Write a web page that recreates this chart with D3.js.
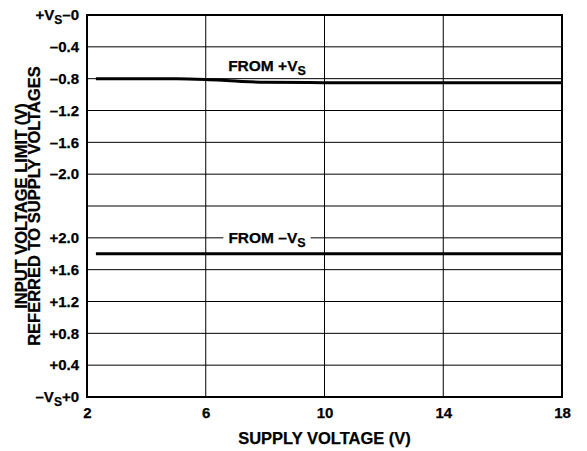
<!DOCTYPE html>
<html>
<head>
<meta charset="utf-8">
<script src="https://cdn.jsdelivr.net/npm/d3@7"></script>
<style>
  body { margin: 0; background: #fff; }
  text { font-family: "Liberation Sans", Arial, Helvetica, sans-serif; font-weight: bold; fill: #000; stroke: #000; stroke-width: 0.25px; }
</style>
</head>
<body>
<div id="container"></div>
<script>

// <---------data---------->
let supplyTicks = [2, 6, 10, 14, 18];
let topTicks = [0, -0.4, -0.8, -1.2, -1.6, -2.0, -2.4];     // referred to +Vs
let bottomTicks = [2.0, 1.6, 1.2, 0.8, 0.4, 0];             // referred to -Vs

let fromPlusSupply = [2.3, 5, 6, 7, 8, 10, 14, 18];
let fromPlusLimit = [-0.80, -0.80, -0.81, -0.83, -0.845, -0.85, -0.85, -0.85];

let fromMinusSupply = [2.3, 18];
let fromMinusLimit = [1.8, 1.8];

// <---------the canvas---------->
let width = 587;
let height = 451;
let plotLeft = 87, plotRight = 562, plotTop = 15, plotBottom = 397;
let mid = (plotTop + plotBottom) / 2;

let viz = d3.select("#container")
  .append("svg")
    .attr("width", width)
    .attr("height", height)
;

let x = d3.scaleLinear().domain([2, 18]).range([plotLeft, plotRight]);
let yTop = d3.scaleLinear().domain([0, -2.4]).range([plotTop, mid]);
let yBot = d3.scaleLinear().domain([2.4, 0]).range([mid, plotBottom]);

// <---------grid---------->
let grid = viz.append("g").attr("class", "grid")
  .attr("stroke", "#000")
  .attr("stroke-width", 1)
;

grid.selectAll(".vline").data(supplyTicks.slice(1, -1)).enter()
  .append("line")
    .attr("x1", d => x(d)).attr("x2", d => x(d))
    .attr("y1", plotTop).attr("y2", plotBottom)
;

grid.selectAll(".htop").data(topTicks.slice(1)).enter()
  .append("line")
    .attr("x1", plotLeft).attr("x2", plotRight)
    .attr("y1", d => yTop(d)).attr("y2", d => yTop(d))
;

grid.selectAll(".hbot").data(bottomTicks.slice(0, -1)).enter()
  .append("line")
    .attr("x1", plotLeft).attr("x2", plotRight)
    .attr("y1", d => yBot(d)).attr("y2", d => yBot(d))
;

// <---------axes---------->
function fmt(d){
  if (d == 0) return "";
  let s = Math.abs(d).toFixed(1);
  return (d < 0 ? "\u2013" : "+") + s;
}

let axTop = viz.append("g")
  .attr("transform", "translate(" + plotLeft + ",0)")
  .call(d3.axisLeft(yTop).tickValues(topTicks.slice(0, -1)).tickSize(0).tickPadding(8).tickFormat(fmt));

let axBot = viz.append("g")
  .attr("transform", "translate(" + plotLeft + ",0)")
  .call(d3.axisLeft(yBot).tickValues(bottomTicks).tickSize(0).tickPadding(8).tickFormat(fmt));

let axX = viz.append("g")
  .attr("transform", "translate(0," + plotBottom + ")")
  .call(d3.axisBottom(x).tickValues(supplyTicks).tickSize(0).tickPadding(10).tickFormat(d3.format("d")));

[axTop, axBot, axX].forEach(function(a){
  a.select(".domain").remove();
  a.selectAll("text")
    .style("font-family", "'Liberation Sans', Arial, sans-serif")
    .style("font-weight", "bold")
    .style("font-size", "15px")
    .attr("fill", "#000");
});

// supply-referred end labels with subscript S
function supplyLabel(sel, first, last){
  sel.text("");
  sel.append("tspan").text(first);
  sel.append("tspan").text("S").attr("dy", 4).style("font-size", "12px");
  sel.append("tspan").text(last).attr("dy", -4);
}
axTop.selectAll(".tick text").filter(d => d == 0).call(supplyLabel, "+V", "\u20130");
axBot.selectAll(".tick text").filter(d => d == 0).call(supplyLabel, "\u2013V", "+0");

// <---------curves---------->
let lineTop = d3.line()
  .x(d => x(d[0]))
  .y(d => yTop(d[1]))
  .curve(d3.curveMonotoneX);

let lineBot = d3.line()
  .x(d => x(d[0]))
  .y(d => yBot(d[1]));

viz.append("path")
  .datum(d3.zip(fromPlusSupply, fromPlusLimit))
  .attr("d", lineTop)
  .attr("fill", "none")
  .attr("stroke", "#000")
  .attr("stroke-width", 3)
;

viz.append("path")
  .datum(d3.zip(fromMinusSupply, fromMinusLimit))
  .attr("d", lineBot)
  .attr("fill", "none")
  .attr("stroke", "#000")
  .attr("stroke-width", 3)
;

// <---------frame---------->
viz.append("rect")
  .attr("x", plotLeft).attr("y", plotTop)
  .attr("width", plotRight - plotLeft).attr("height", plotBottom - plotTop)
  .attr("fill", "none")
  .attr("stroke", "#000")
  .attr("stroke-width", 2)
;

// <---------curve labels---------->
function curveLabel(cx, cy, first, boxed){
  let g = viz.append("g");
  let t = g.append("text")
    .attr("x", cx).attr("y", cy)
    .attr("text-anchor", "middle")
    .style("font-size", "15.5px");
  t.append("tspan").text(first);
  t.append("tspan").text("S").attr("dy", 4).style("font-size", "12.5px");
  if (boxed){
    let b = t.node().getBBox();
    g.insert("rect", "text")
      .attr("x", b.x - 5).attr("y", b.y)
      .attr("width", b.width + 10).attr("height", b.height - 4)
      .attr("fill", "#fff")
      .attr("stroke", "none");
  }
}
curveLabel(267, 71, "FROM +V", false);
curveLabel(267, 243, "FROM \u2013V", true);

// <---------titles---------->
viz.append("text")
  .attr("x", (plotLeft + plotRight) / 2).attr("y", 444)
  .attr("text-anchor", "middle")
  .style("font-size", "16.5px")
  .text("SUPPLY VOLTAGE (V)");

let yTitle = viz.append("text")
  .attr("transform", "translate(0," + mid + ") rotate(-90)")
  .attr("text-anchor", "middle")
  .style("font-size", "16.5px");
yTitle.append("tspan").attr("x", 0).attr("y", 27).text("INPUT VOLTAGE LIMIT (V)");
yTitle.append("tspan").attr("x", 0).attr("y", 40).text("REFERRED TO SUPPLY VOLTAGES");

</script>
</body>
</html>
